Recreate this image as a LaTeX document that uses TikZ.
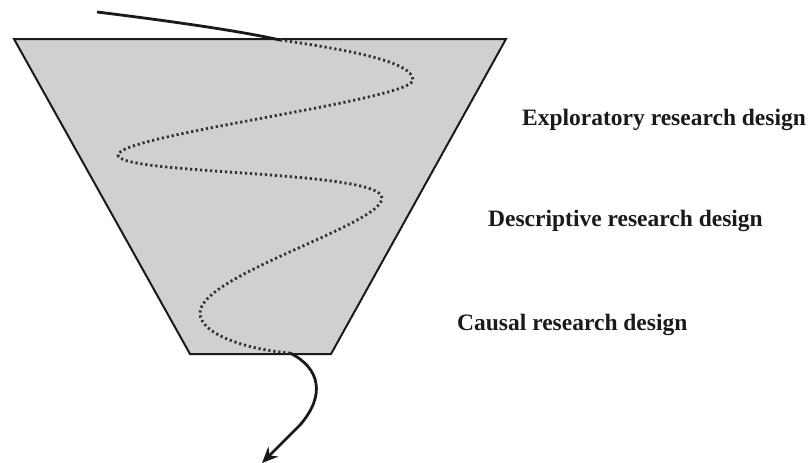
\documentclass[tikz,border=0pt]{standalone}
\usepackage{fontspec}
\setmainfont{Liberation Serif}
\usetikzlibrary{arrows.meta}
\definecolor{funnelgrey}{HTML}{CFD0D0}
\definecolor{inkdark}{HTML}{1A1A1A}
\tikzset{
  funnel/.style={fill=funnelgrey, draw=inkdark, line width=2pt, line join=miter},
  pathsolid/.style={draw=inkdark, line width=2.8pt},
  pathdotted/.style={draw=inkdark!90, line width=2.8pt, dash pattern=on 2.2pt off 2.8pt},
  designlabel/.style={anchor=base west, inner sep=0pt, text=inkdark,
    font=\fontsize{23.5}{28}\selectfont\bfseries}
}
\begin{document}
\begin{tikzpicture}[x=1pt, y=-1pt]
  \useasboundingbox (0,0) rectangle (811,463);

  % funnel body
  \draw[funnel] (14,39) -- (506,39) -- (331,354) -- (190,354) -- cycle;

  % route through the funnel
  \coordinate (entry) at (97,12);
  \coordinate (rim) at (280,40);
  \coordinate (turnA) at (413,80);
  \coordinate (turnB) at (118,155);
  \coordinate (turnC) at (382,198);
  \coordinate (turnD) at (200,313);
  \coordinate (outlet) at (290,353);
  \coordinate (exit) at (262,463);

  \draw[pathsolid] (entry) .. controls (170,21) and (240,31) .. (rim);
  \draw[pathdotted] (rim) .. controls (350,50) and (413,62) .. (turnA)
     .. controls (413,100) and (118,135) .. (turnB)
     .. controls (118,175) and (382,170) .. (turnC)
     .. controls (382,225) and (200,275) .. (turnD)
     .. controls (200,335) and (250,350) .. (outlet);
  \draw[pathsolid, -{Stealth[length=16pt, width=14pt]}]
     (outlet) .. controls (320,368) and (326,395) .. (300,425) -- (exit);

  % stage labels
  \node[designlabel] (explore) at (522,125) {Exploratory research design};
  \node[designlabel] (describe) at (488,226) {Descriptive research design};
  \node[designlabel] (causal) at (457,330) {Causal research design};
\end{tikzpicture}
\end{document}
